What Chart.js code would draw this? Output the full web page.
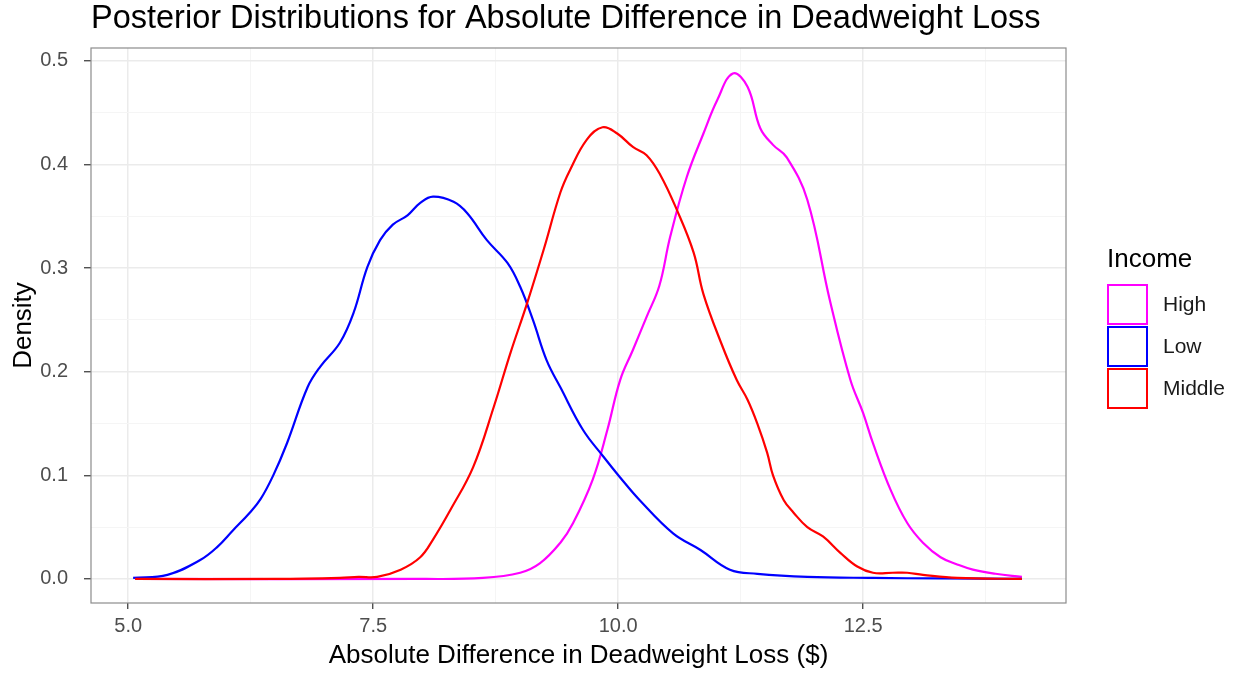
<!DOCTYPE html>
<html>
<head>
<meta charset="utf-8">
<script src="https://cdn.jsdelivr.net/npm/chart.js@4/dist/chart.umd.min.js"></script>
<style>
  body { margin: 0; background: #fff; font-family: "Liberation Sans", Arial, sans-serif; }
  #wrap { position: relative; width: 1239px; height: 674px; }
  #legend { position: absolute; left: 1107px; top: 243px; }
  #legend .title { font-size: 26px; color: #000; height: 30px; line-height: 30px; margin-bottom: 10px; }
  #legend .item { height: 42px; display: flex; align-items: center; }
  #legend .box { width: 37px; height: 37px; border: 2px solid; box-sizing: content-box; margin-right: 15px; }
  #legend .label { font-size: 21px; color: #1a1a1a; }
</style>
</head>
<body>
<div id="wrap">
  <canvas id="myChart" width="1239" height="674"></canvas>
  <div id="legend"></div>
</div>
<script>
// density curves
var seriesNames = ["High", "Low", "Middle"];
var seriesColors = ["#ff00ff", "#0000ff", "#ff0000"];

var highX = [5.07, 8.0, 8.62, 9.0, 9.2, 9.41, 9.54, 9.74, 9.89, 10.02, 10.15, 10.29, 10.42, 10.53, 10.70, 10.87, 11.01, 11.17, 11.32, 11.45, 11.58, 11.72, 11.93, 12.16, 12.37, 12.5, 12.60, 12.78, 12.95, 13.11, 13.29, 13.46, 13.62, 13.85, 14.12];
var highY = [0, 0, 0.001, 0.006, 0.015, 0.035, 0.054, 0.096, 0.144, 0.192, 0.221, 0.253, 0.283, 0.330, 0.388, 0.430, 0.462, 0.488, 0.475, 0.435, 0.419, 0.407, 0.366, 0.269, 0.192, 0.16, 0.131, 0.086, 0.054, 0.035, 0.021, 0.014, 0.009, 0.005, 0.002];

var lowX = [5.05, 5.4, 5.73, 5.91, 6.07, 6.24, 6.35, 6.48, 6.62, 6.83, 6.96, 7.16, 7.3, 7.44, 7.57, 7.7, 7.85, 7.98, 8.11, 8.32, 8.46, 8.66, 8.87, 9.0, 9.13, 9.27, 9.41, 9.64, 9.85, 10.02, 10.22, 10.56, 10.84, 11.14, 11.42, 11.93, 12.6, 13.3, 14.12];
var lowY = [0.001, 0.004, 0.018, 0.031, 0.047, 0.064, 0.077, 0.1, 0.131, 0.185, 0.205, 0.228, 0.257, 0.301, 0.327, 0.342, 0.351, 0.363, 0.369, 0.364, 0.353, 0.327, 0.305, 0.282, 0.25, 0.211, 0.185, 0.144, 0.118, 0.098, 0.076, 0.044, 0.028, 0.009, 0.005, 0.002, 0.001, 0.0005, 0];

var midX = [5.07, 6.5, 7.16, 7.35, 7.54, 7.78, 7.98, 8.11, 8.29, 8.52, 8.73, 8.9, 9.07, 9.24, 9.41, 9.51, 9.68, 9.84, 9.99, 10.15, 10.29, 10.43, 10.6, 10.77, 10.87, 11.05, 11.21, 11.32, 11.42, 11.52, 11.58, 11.69, 11.79, 11.93, 12.09, 12.27, 12.44, 12.6, 12.8, 12.95, 13.11, 13.46, 14.12];
var midY = [0, 0, 0.001, 0.002, 0.002, 0.009, 0.021, 0.038, 0.067, 0.108, 0.166, 0.218, 0.266, 0.318, 0.373, 0.395, 0.424, 0.436, 0.43, 0.417, 0.409, 0.39, 0.356, 0.315, 0.275, 0.228, 0.192, 0.173, 0.15, 0.122, 0.1, 0.076, 0.064, 0.05, 0.041, 0.025, 0.012, 0.006, 0.006, 0.006, 0.004, 0.001, 0];

var xMajor = [5, 7.5, 10, 12.5];
var xMinor = [6.25, 8.75, 11.25, 13.75];
var yMajor = [0, 0.1, 0.2, 0.3, 0.4, 0.5];
var yMinor = [0.05, 0.15, 0.25, 0.35, 0.45];

var allX = [highX, lowX, midX];
var allY = [highY, lowY, midY];

function isMajor(list, v) {
    return list.some(function(m) { return Math.abs(m - v) < 1e-9; });
}

var datasets = seriesNames.map(function(name, i) {
    return {
        label: name,
        data: allX[i].map(function(x, j) { return {x: x, y: allY[i][j]}; }),
        borderColor: seriesColors[i],
        backgroundColor: "#fff",
        borderWidth: 2.2,
        pointRadius: 0,
        fill: false,
        tension: 0.4,
        order: 3 - i
    };
});

var panelBorder = {
    id: "panelBorder",
    afterDraw: function(chart) {
        var a = chart.chartArea, c = chart.ctx;
        c.save();
        c.strokeStyle = "#8c8c8c";
        c.lineWidth = 1.2;
        c.strokeRect(a.left, a.top, a.right - a.left, a.bottom - a.top);
        c.restore();
    }
};

var ctx = document.getElementById("myChart").getContext('2d');

var myChart = new Chart(ctx, {
    type: 'line',
    data: { datasets: datasets },
    plugins: [panelBorder],
    options: {
        responsive: false,
        animation: false,
        layout: { padding: { left: 0, right: 173, top: 0, bottom: 0 } },
        plugins: {
            legend: { display: false },
            tooltip: { enabled: false },
            title: {
                display: true,
                text: "Posterior Distributions for Absolute Difference in Deadweight Loss",
                align: "start",
                fullSize: false,
                color: "#000",
                font: { family: "Liberation Sans", size: 32.5, weight: "normal", lineHeight: 1 },
                padding: { top: 3, bottom: 12.5 }
            }
        },
        scales: {
            x: {
                type: 'linear',
                min: 4.62,
                max: 14.57,
                afterBuildTicks: function(axis) {
                    axis.ticks = xMajor.concat(xMinor).sort(function(a, b) { return a - b; })
                        .map(function(v) { return {value: v}; });
                },
                afterFit: function(axis) { axis.height = 71; },
                border: { display: false },
                grid: {
                    color: function(c) { return isMajor(xMajor, c.tick.value) ? "#ebebeb" : "#f5f5f5"; },
                    lineWidth: function(c) { return isMajor(xMajor, c.tick.value) ? 1.5 : 1; },
                    tickColor: function(c) { return isMajor(xMajor, c.tick.value) ? "#333" : "rgba(0,0,0,0)"; },
                    tickLength: 6,
                    tickWidth: 1.2
                },
                ticks: {
                    autoSkip: false,
                    maxRotation: 0,
                    padding: 5,
                    color: "#4d4d4d",
                    font: { family: "Liberation Sans", size: 20 },
                    callback: function(v) { return isMajor(xMajor, v) ? v.toFixed(1) : ""; }
                },
                title: {
                    display: true,
                    text: "Absolute Difference in Deadweight Loss ($)",
                    color: "#000",
                    font: { family: "Liberation Sans", size: 26 },
                    padding: { top: 0, bottom: 3 }
                }
            },
            y: {
                min: -0.0232,
                max: 0.5125,
                afterBuildTicks: function(axis) {
                    axis.ticks = yMajor.concat(yMinor).sort(function(a, b) { return a - b; })
                        .map(function(v) { return {value: v}; });
                },
                afterFit: function(axis) { axis.width = 91; },
                border: { display: false },
                grid: {
                    color: function(c) { return isMajor(yMajor, c.tick.value) ? "#ebebeb" : "#f5f5f5"; },
                    lineWidth: function(c) { return isMajor(yMajor, c.tick.value) ? 1.5 : 1; },
                    tickColor: function(c) { return isMajor(yMajor, c.tick.value) ? "#333" : "rgba(0,0,0,0)"; },
                    tickLength: 7,
                    tickWidth: 1.2
                },
                ticks: {
                    autoSkip: false,
                    padding: 16,
                    color: "#4d4d4d",
                    font: { family: "Liberation Sans", size: 20 },
                    callback: function(v) { return isMajor(yMajor, v) ? v.toFixed(1) : ""; }
                },
                title: {
                    display: true,
                    text: "Density",
                    color: "#000",
                    font: { family: "Liberation Sans", size: 26 },
                    padding: { top: 8, bottom: 0 }
                }
            }
        }
    }
});

// legend in the ggplot style, built from the datasets
var legendEl = document.getElementById("legend");
var html = '<div class="title">Income</div>';
myChart.data.datasets.forEach(function(ds) {
    html += '<div class="item"><div class="box" style="border-color:' + ds.borderColor + '"></div>' +
        '<span class="label">' + ds.label + '</span></div>';
});
legendEl.innerHTML = html;
</script>
</body>
</html>
